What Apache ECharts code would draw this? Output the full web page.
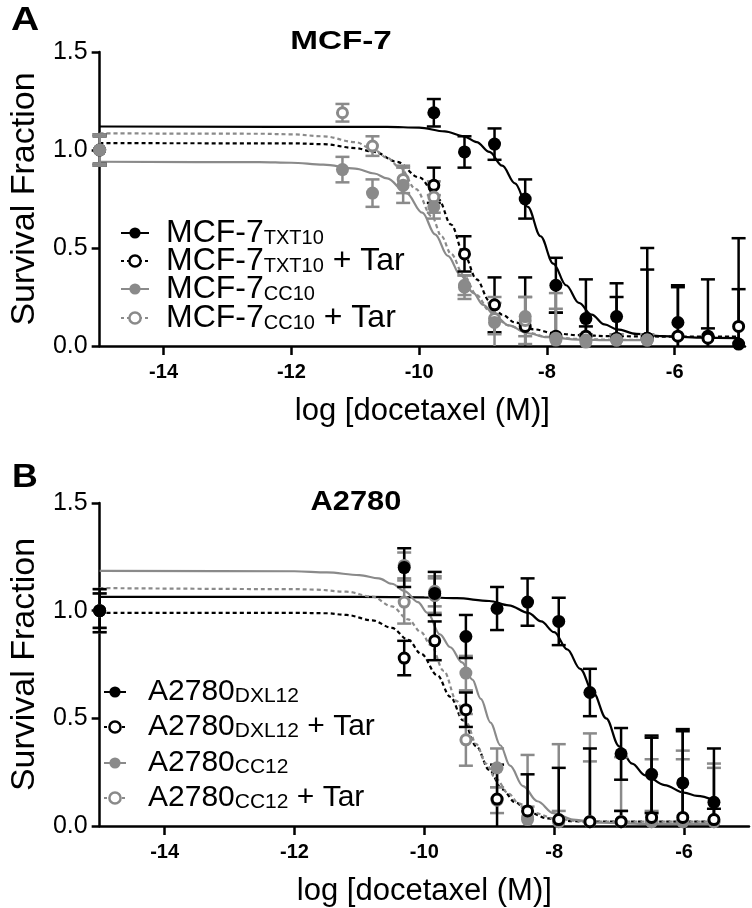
<!DOCTYPE html>
<html><head><meta charset="utf-8">
<script src="https://cdn.jsdelivr.net/npm/echarts@6.0.0/dist/echarts.min.js"></script>
<style>html,body{margin:0;padding:0;background:#fff}#c{width:752px;height:908px}</style>
</head><body><div id="c"></div>
<script>
// ---------- tick labels ----------
const xTickValues = [-14, -12, -10, -8, -6];
const yTickStep = 0.5;

// ---------- Panel A : MCF-7 ----------
const xA_black = [-15, -9.77, -9.29, -8.82, -8.34, -7.86, -7.39, -6.91, -6.43, -5.95, -5.48, -5.00];
const xA_gray  = [-15, -11.20, -10.73, -10.25, -9.77, -9.29, -8.82, -8.34, -7.86, -7.39, -6.91, -6.43];

const yA_txt    = [1.00, 1.19, 0.99, 1.03, 0.75, 0.31, 0.14, 0.15, 0.04, 0.12, 0.05, 0.01];
const eA_txt    = [0.07, 0.07, 0.08, 0.08, 0.10, 0.14, 0.20, 0.17, 0.46, 0.19, 0.29, 0.28];
const yA_txtTar = [1.00, 0.82, 0.47, 0.21, 0.10, 0.05, 0.05, 0.04, 0.04, 0.05, 0.04, 0.10];
const eA_txtTar = [0.08, 0.09, 0.09, 0.14, 0.25, 0.12, 0.05, 0.21, 0.35, 0.25, 0.05, 0.45];
const yA_cc     = [1.00, 0.90, 0.78, 0.82, 0.71, 0.30, 0.12, 0.15, 0.03, 0.02, 0.03, 0.03];
const eA_cc     = [0.07, 0.065, 0.07, 0.09, 0.06, 0.06, 0.13, 0.10, 0.24, 0.03, 0.03, 0.03];
const yA_ccTar  = [1.00, 1.19, 1.02, 0.85, 0.76, 0.31, 0.14, 0.13, 0.04, 0.03, 0.03, 0.03];
const eA_ccTar  = [0.08, 0.045, 0.05, 0.07, 0.08, 0.05, 0.08, 0.12, 0.15, 0.03, 0.03, 0.03];

// fitted curves
const cA_txt = [[-15,1.12],[-10.5,1.118],[-10,1.114],[-9.6,1.095],[-9.3,1.07],[-9.1,1.04],[-8.9,0.99],[-8.7,0.92],[-8.5,0.83],[-8.3,0.71],[-8.1,0.56],[-7.9,0.42],[-7.7,0.31],[-7.5,0.22],[-7.3,0.16],[-7.1,0.11],[-6.9,0.085],[-6.6,0.062],[-6.2,0.05],[-5.6,0.043],[-5.0,0.04]];
const cA_txtTar = [[-15,1.035],[-12,1.034],[-11.5,1.03],[-11,1.01],[-10.7,0.99],[-10.35,0.94],[-10,0.86],[-9.7,0.75],[-9.5,0.62],[-9.3,0.47],[-9.1,0.34],[-8.9,0.23],[-8.7,0.16],[-8.5,0.12],[-8.2,0.085],[-7.9,0.065],[-7.5,0.055],[-7,0.05],[-6,0.048],[-5,0.048]];
const cA_cc = [[-15,0.94],[-12.5,0.938],[-12,0.935],[-11.5,0.925],[-11,0.905],[-10.7,0.88],[-10.5,0.855],[-10.2,0.78],[-9.95,0.68],[-9.75,0.57],[-9.55,0.46],[-9.35,0.36],[-9.15,0.27],[-9.0,0.21],[-8.8,0.15],[-8.6,0.105],[-8.3,0.065],[-8.0,0.045],[-7.5,0.033],[-7,0.03],[-6.43,0.03]];
const cA_ccTar = [[-15,1.085],[-12.5,1.083],[-12,1.08],[-11.5,1.07],[-11,1.04],[-10.7,1.0],[-10.5,0.96],[-10.3,0.91],[-10.05,0.80],[-9.8,0.66],[-9.65,0.56],[-9.5,0.47],[-9.3,0.36],[-9.1,0.26],[-8.9,0.18],[-8.6,0.105],[-8.3,0.068],[-8.0,0.047],[-7.5,0.036],[-7,0.032],[-6.43,0.03]];

// ---------- Panel B : A2780 ----------
const xB = [-15, -10.31, -9.84, -9.36, -8.88, -8.41, -7.93, -7.45, -6.97, -6.50, -6.02, -5.54];

const yB_dxl    = [1.00, 1.20, 1.08, 0.88, 1.01, 1.04, 0.95, 0.62, 0.335, 0.24, 0.20, 0.11];
const eB_dxl    = [0.08, 0.09, 0.10, 0.10, 0.10, 0.11, 0.11, 0.11, 0.12, 0.18, 0.25, 0.25];
const yB_dxlTar = [1.00, 0.78, 0.86, 0.54, 0.125, 0.07, 0.03, 0.02, 0.02, 0.04, 0.04, 0.03];
const eB_dxlTar = [0.10, 0.08, 0.09, 0.08, 0.16, 0.17, 0.24, 0.34, 0.05, 0.37, 0.40, 0.05];
const yB_cc     = [1.00, 1.21, 1.09, 0.71, 0.27, 0.03, 0.02, 0.02, 0.02, 0.02, 0.02, 0.02];
const eB_cc     = [0.08, 0.06, 0.07, 0.08, 0.09, 0.30, 0.36, 0.41, 0.05, 0.29, 0.33, 0.27];
const yB_ccTar  = [1.00, 1.04, 1.07, 0.40, 0.12, 0.04, 0.02, 0.02, 0.02, 0.02, 0.02, 0.02];
const eB_ccTar  = [0.10, 0.10, 0.08, 0.12, 0.06, 0.05, 0.05, 0.28, 0.30, 0.05, 0.29, 0.25];

const cB_dxl = [[-15,1.064],[-11,1.064],[-10,1.062],[-9.5,1.058],[-9,1.045],[-8.7,1.025],[-8.4,0.99],[-8.2,0.95],[-8.0,0.90],[-7.8,0.82],[-7.6,0.73],[-7.4,0.62],[-7.2,0.50],[-7.0,0.37],[-6.8,0.29],[-6.6,0.235],[-6.3,0.19],[-6.0,0.155],[-5.8,0.14],[-5.54,0.12]];
const cB_dxlTar = [[-15,0.99],[-12,0.99],[-11.5,0.988],[-11.2,0.98],[-10.8,0.955],[-10.5,0.92],[-10.25,0.865],[-10.05,0.80],[-9.8,0.70],[-9.6,0.60],[-9.4,0.49],[-9.2,0.37],[-9.0,0.26],[-8.8,0.17],[-8.6,0.11],[-8.4,0.065],[-8.1,0.035],[-7.7,0.022],[-7,0.02],[-5.54,0.02]];
const cB_cc = [[-15,1.185],[-12,1.183],[-11.5,1.178],[-11,1.165],[-10.7,1.15],[-10.5,1.125],[-10.3,1.09],[-10.1,1.04],[-9.95,0.99],[-9.76,0.89],[-9.6,0.83],[-9.42,0.76],[-9.26,0.68],[-9.13,0.59],[-8.98,0.48],[-8.83,0.375],[-8.68,0.28],[-8.48,0.185],[-8.26,0.115],[-8.01,0.06],[-7.71,0.03],[-7.3,0.015],[-6.5,0.01],[-5.54,0.01]];
const cB_ccTar = [[-15,1.105],[-12,1.10],[-11.7,1.098],[-11.2,1.088],[-10.8,1.065],[-10.5,1.02],[-10.25,0.96],[-10.05,0.90],[-9.9,0.84],[-9.7,0.72],[-9.5,0.58],[-9.35,0.48],[-9.2,0.38],[-9.05,0.29],[-8.9,0.22],[-8.7,0.15],[-8.55,0.105],[-8.3,0.06],[-8.0,0.035],[-7.6,0.022],[-7,0.02],[-5.54,0.02]];

// ---------- styling ----------
const FONT = '"Liberation Sans", Arial, sans-serif';
const BLACK = '#000000';
const GRAY = '#8a8a8a';

const groupsA = [
  {name:'MCF-7_TXT10', label:'{m0|MCF-7}{s|TXT10}', color:BLACK, open:false, dashed:false, x:xA_black, y:yA_txt, e:eA_txt, curve:cA_txt},
  {name:'MCF-7_TXT10 + Tar', label:'{m0|MCF-7}{s|TXT10}{m| + Tar}', color:BLACK, open:true, dashed:true, x:xA_black, y:yA_txtTar, e:eA_txtTar, curve:cA_txtTar},
  {name:'MCF-7_CC10', label:'{m0|MCF-7}{s|CC10}', color:GRAY, open:false, dashed:false, x:xA_gray, y:yA_cc, e:eA_cc, curve:cA_cc},
  {name:'MCF-7_CC10 + Tar', label:'{m0|MCF-7}{s|CC10}{m| + Tar}', color:GRAY, open:true, dashed:true, x:xA_gray, y:yA_ccTar, e:eA_ccTar, curve:cA_ccTar}
];
const groupsB = [
  {name:'A2780_DXL12', label:'{m0|A2780}{s|DXL12}', color:BLACK, open:false, dashed:false, x:xB, y:yB_dxl, e:eB_dxl, curve:cB_dxl},
  {name:'A2780_DXL12 + Tar', label:'{m0|A2780}{s|DXL12}{m| + Tar}', color:BLACK, open:true, dashed:true, x:xB, y:yB_dxlTar, e:eB_dxlTar, curve:cB_dxlTar},
  {name:'A2780_CC12', label:'{m0|A2780}{s|CC12}', color:GRAY, open:false, dashed:false, x:xB, y:yB_cc, e:eB_cc, curve:cB_cc},
  {name:'A2780_CC12 + Tar', label:'{m0|A2780}{s|CC12}{m| + Tar}', color:GRAY, open:true, dashed:true, x:xB, y:yB_ccTar, e:eB_ccTar, curve:cB_ccTar}
];

function errRender(color) {
  return function (params, api) {
    const x = api.value(0), y = api.value(1), e = api.value(2);
    const top = api.coord([x, y + e]);
    const lowV = Math.max(0, y - e);
    const bot = api.coord([x, lowV]);
    const h = 7;
    const st = {stroke: color, lineWidth: 2.5};
    const ch = [
      {type:'line', shape:{x1:top[0], y1:top[1], x2:bot[0], y2:bot[1]}, style:st},
      {type:'line', shape:{x1:top[0]-h, y1:top[1], x2:top[0]+h, y2:top[1]}, style:st}
    ];
    if (y - e > 0) ch.push({type:'line', shape:{x1:bot[0]-h, y1:bot[1], x2:bot[0]+h, y2:bot[1]}, style:st});
    return {type:'group', children: ch};
  };
}

function buildSeries(groups, gi, order) {
  const out = [];
  groups.forEach((g, k) => {
    out.push({
      type:'line', name:g.name, xAxisIndex:gi, yAxisIndex:gi, data:g.curve,
      smooth:0.35, smoothMonotone:'x', showSymbol:false, symbol:'circle', silent:true,
      lineStyle:{color:g.color, width:2.2, type: g.dashed ? [4,3] : 'solid'},
      itemStyle:{color: g.open ? '#fff' : g.color, borderColor:g.color, borderWidth: g.open ? 3 : 0},
      z:2, animation:false
    });
    out.push({
      type:'custom', name:g.name + ' err', xAxisIndex:gi, yAxisIndex:gi,
      data: g.x.map((x, i) => [x, g.y[i], g.e[i]]),
      encode:{x:0, y:1}, renderItem: errRender(g.color), silent:true, z:3 + order[k]*0.01, animation:false
    });
    out.push({
      type:'scatter', name:g.name + ' pts', xAxisIndex:gi, yAxisIndex:gi,
      data: g.x.map((x, i) => [x, g.y[i]]), symbol:'circle',
      symbolSize: g.open ? 10 : 13, silent:true,
      itemStyle:{color: g.open ? '#fff' : g.color, borderColor:g.color, borderWidth: g.open ? 3 : 0, opacity:1},
      z:4 + order[k]*0.01, animation:false
    });
  });
  return out;
}

function buildLegends(groups, left, tops, itemWidth, mainSize, subSize, gap) {
  return groups.map((g, k) => ({
    left: left, top: tops[k], padding: 0, orient:'horizontal',
    itemWidth: itemWidth, itemHeight: 14, selectedMode:false,
    data:[g.name],
    formatter: () => g.label,
    itemStyle:{color: g.open ? '#fff' : g.color, borderColor:g.color, borderWidth: g.open ? 2.5 : 0},
    lineStyle:{color:g.color, width:2, type: g.dashed ? [3,3] : 'solid'},
    textStyle:{
      rich:{
        m0:{fontSize:mainSize, fontFamily:FONT, color:'#000', lineHeight:30, padding:[0,0,0,gap]},
        m:{fontSize:mainSize, fontFamily:FONT, color:'#000', lineHeight:30},
        s:{fontSize:subSize, fontFamily:FONT, color:'#000', lineHeight:12, verticalAlign:'bottom'}
      }
    }
  }));
}

function xAxisCfg(gi, max) {
  return {
    type:'value', gridIndex:gi, min:-15, max:max,
    axisLine:{show:true, onZero:false, lineStyle:{color:'#000', width:2.5}},
    axisTick:{show:true, customValues:xTickValues, length:9, lineStyle:{color:'#000', width:2.5}},
    axisLabel:{customValues:xTickValues, margin:16, fontSize:20, fontWeight:'bold', color:'#000', fontFamily:FONT},
    splitLine:{show:false},
    name:'log [docetaxel (M)]', nameLocation:'middle', nameGap:50,
    nameTextStyle:{fontSize:31, color:'#000', fontFamily:FONT}
  };
}
function yAxisCfg(gi) {
  return {
    type:'value', gridIndex:gi, min:0, max:1.5, interval:yTickStep,
    axisLine:{show:true, onZero:false, lineStyle:{color:'#000', width:2.5}},
    axisTick:{show:true, length:8, lineStyle:{color:'#000', width:2.5}},
    axisLabel:{margin:12, fontSize:25, color:'#000', fontFamily:FONT, formatter:(v) => v.toFixed(1)},
    splitLine:{show:false},
    name:'Survival Fraction', nameLocation:'middle', nameGap:55,
    nameTextStyle:{fontSize:34, color:'#000', fontFamily:FONT}
  };
}

function label(text, x, y, size, sx) {
  return {type:'text', x:x, y:y, scaleX:sx,
    style:{text:text, fontSize:size, fontWeight:'bold', fontFamily:'"Liberation Sans", Arial, sans-serif', fill:'#000', align:'center', verticalAlign:'middle'}};
}

const chart = echarts.init(document.getElementById('c'), null, {renderer:'canvas'});
chart.setOption({
  backgroundColor:'#fff',
  animation:false,
  grid:[
    {left:94, top:52, width:651, height:294},
    {left:97, top:503, width:652, height:327}
  ],
  xAxis:[xAxisCfg(0, -4.9), xAxisCfg(1, -5)],
  yAxis:[yAxisCfg(0), yAxisCfg(1)],
  legend: buildLegends(groupsA, 120, [217, 245, 273, 302], 28, 32, 20, 12)
    .concat(buildLegends(groupsB, 103, [677, 712, 748, 783], 22, 30, 21, 17)),
  graphic:[
    label('A', 25, 21, 34, 1.15),
    label('MCF-7', 341, 42, 26, 1.28),
    label('B', 25, 478, 34, 1.05),
    label('A2780', 356, 502, 28, 1.1)
  ],
  series: buildSeries(groupsA, 0, [0, 1, 3, 2]).concat(buildSeries(groupsB, 1, [3, 2, 1, 0]))
});
</script>
</body></html>
